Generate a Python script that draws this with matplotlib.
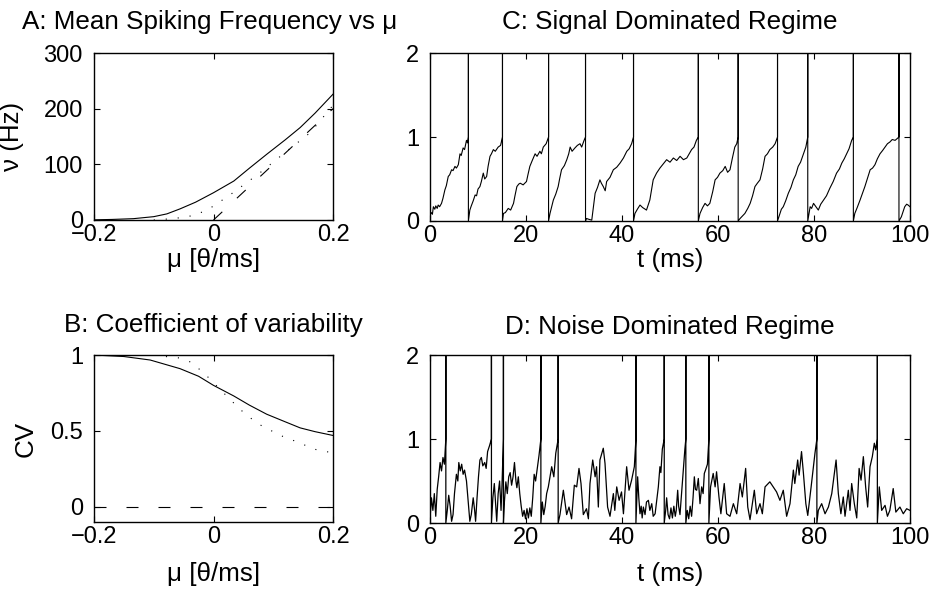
import numpy as np
import matplotlib
matplotlib.use('Agg')
import matplotlib.pyplot as plt

plt.rcParams.update({'font.size': 17, 'font.family': ['Liberation Sans', 'DejaVu Sans'],
                     'axes.titlesize': 18.7, 'axes.labelsize': 18.7})

# panel A: mean rate vs mu
mu_solid = [-0.2, -0.17, -0.134, -0.1, -0.078, -0.056, -0.03, 0.0, 0.034, 0.06, 0.089, 0.12, 0.145, 0.17, 0.2]
nu_solid = [0.3, 1.0, 2.4, 6, 11, 20, 32, 49, 70, 93, 118, 144, 166, 192, 226]
mu_dot = [-0.1, -0.08, -0.056, -0.034, -0.015, 0.0, 0.034, 0.078, 0.123, 0.162, 0.2]
nu_dot = [0.0, 1.5, 4, 8, 16, 25, 50, 85, 124, 157, 206]
mu_dash = [0.0, 0.2]
nu_dash = [0.0, 200.0]

# panel B: CV vs mu
mu_cv = [-0.2, -0.15, -0.106, -0.056, -0.025, 0.0, 0.034, 0.06, 0.089, 0.12, 0.145, 0.17, 0.2]
cv_solid = [1.0, 0.99, 0.967, 0.91, 0.86, 0.80, 0.73, 0.67, 0.61, 0.56, 0.52, 0.495, 0.47]
mu_cvdot = [-0.2, -0.1, -0.056, -0.036, -0.008, 0.017, 0.045, 0.073, 0.112, 0.145, 0.168, 0.2]
cv_dot = [1.0, 0.998, 0.98, 0.95, 0.85, 0.75, 0.64, 0.55, 0.47, 0.42, 0.38, 0.355]
mu_cvdash = [-0.2, 0.2]
cv_dash = [0.0, 0.0]

# panel C: signal dominated trace (segments between spikes)
spikes_c = [8.0, 15.1, 24.7, 32.4, 42.4, 55.9, 64.2, 72.4, 78.7, 88.2, 97.7]
segs_c = [
    [(0, 0.07), (0.3, 0.1), (0.5, 0.08), (0.7, 0.17), (1.0, 0.14), (1.2, 0.18), (1.5, 0.15), (1.7, 0.19),
     (2.0, 0.17), (2.4, 0.21), (2.7, 0.27), (3.1, 0.37), (3.4, 0.42), (3.8, 0.53), (4.1, 0.55), (4.5, 0.61),
     (4.8, 0.6), (5.2, 0.65), (5.5, 0.63), (5.9, 0.67), (6.25, 0.8), (6.5, 0.78), (6.9, 0.87), (7.2, 0.85),
     (7.6, 0.96), (7.8, 0.93), (8.0, 1.0)],
    [(8.0, 0.0), (8.3, 0.13), (8.6, 0.18), (9.0, 0.24), (9.4, 0.31), (9.7, 0.3), (10.0, 0.38), (10.4, 0.41),
     (10.7, 0.47), (11.1, 0.57), (11.4, 0.5), (11.8, 0.53), (12.1, 0.65), (12.5, 0.77), (12.8, 0.8),
     (13.2, 0.85), (13.6, 0.83), (14.2, 0.88), (14.7, 0.9), (15.1, 1.0)],
    [(15.1, 0.0), (15.3, 0.09), (15.7, 0.1), (16.3, 0.15), (16.8, 0.13), (17.4, 0.21), (17.7, 0.3),
     (18.1, 0.41), (18.5, 0.44), (18.8, 0.45), (19.4, 0.43), (20.1, 0.47), (20.4, 0.55), (20.8, 0.65),
     (21.3, 0.72), (21.9, 0.8), (22.3, 0.77), (22.9, 0.83), (23.2, 0.8), (23.6, 0.88), (24.2, 0.92),
     (24.7, 1.0)],
    [(24.7, 0.0), (25.0, 0.09), (25.3, 0.16), (25.7, 0.25), (26.2, 0.32), (26.7, 0.41), (27.0, 0.5),
     (27.4, 0.61), (28.0, 0.66), (28.5, 0.73), (28.9, 0.8), (29.2, 0.88), (29.6, 0.83), (30.2, 0.87),
     (30.7, 0.9), (31.25, 0.92), (31.6, 0.88), (32.1, 0.96), (32.4, 1.0)],
    [(32.4, 0.0), (32.6, 0.03), (33.1, 0.02), (33.7, 0.01), (34.0, 0.15), (34.4, 0.33), (34.9, 0.4),
     (35.4, 0.49), (35.7, 0.45), (36.1, 0.41), (36.5, 0.36), (36.8, 0.47), (37.5, 0.52), (38.2, 0.61),
     (38.9, 0.64), (39.6, 0.69), (40.3, 0.75), (41.0, 0.83), (41.5, 0.86), (42.0, 0.92), (42.4, 1.0)],
    [(42.4, 0.0), (42.7, 0.09), (43.2, 0.14), (43.75, 0.19), (44.3, 0.16), (45.1, 0.13), (45.8, 0.25),
     (46.5, 0.49), (47.2, 0.57), (47.9, 0.63), (48.6, 0.68), (49.3, 0.73), (50.0, 0.7), (50.7, 0.75),
     (51.4, 0.72), (52.1, 0.77), (52.8, 0.73), (53.5, 0.75), (54.0, 0.8), (54.5, 0.85), (55.0, 0.88),
     (55.5, 0.96), (55.9, 1.0)],
    [(55.9, 0.0), (56.25, 0.09), (56.8, 0.16), (57.3, 0.21), (57.8, 0.18), (58.3, 0.21), (58.9, 0.35),
     (59.4, 0.49), (59.9, 0.52), (60.4, 0.57), (61.0, 0.6), (61.5, 0.65), (62.0, 0.58), (62.5, 0.61),
     (63.0, 0.75), (63.5, 0.88), (63.9, 0.92), (64.2, 1.0)],
    [(64.2, 0.0), (64.6, 0.03), (65.1, 0.06), (65.6, 0.09), (66.2, 0.15), (66.7, 0.21), (67.2, 0.3),
     (67.7, 0.41), (68.2, 0.45), (68.75, 0.49), (69.3, 0.62), (69.8, 0.77), (70.3, 0.8), (70.8, 0.85),
     (71.4, 0.88), (71.9, 0.92), (72.4, 1.0)],
    [(72.4, 0.0), (72.9, 0.09), (73.2, 0.14), (73.6, 0.17), (74.1, 0.24), (74.65, 0.33), (75.2, 0.4),
     (75.7, 0.49), (76.2, 0.55), (76.7, 0.65), (77.2, 0.7), (77.8, 0.8), (78.3, 0.88), (78.7, 1.0)],
    [(78.7, 0.0), (79.2, 0.17), (79.5, 0.15), (79.9, 0.21), (80.4, 0.17), (80.9, 0.13), (81.4, 0.2),
     (82.0, 0.25), (82.6, 0.3), (83.3, 0.39), (84.0, 0.47), (84.7, 0.57), (85.3, 0.62), (85.8, 0.69),
     (86.3, 0.74), (86.8, 0.8), (87.3, 0.86), (87.85, 0.96), (88.2, 1.0)],
    [(88.2, 0.0), (88.5, 0.09), (89.0, 0.16), (89.6, 0.25), (90.1, 0.33), (90.6, 0.41), (91.1, 0.5),
     (91.7, 0.61), (92.2, 0.63), (92.7, 0.67), (93.2, 0.74), (93.75, 0.8), (94.3, 0.84), (94.8, 0.88),
     (95.3, 0.92), (95.8, 0.94), (96.3, 0.97), (96.9, 0.96), (97.3, 0.98), (97.7, 1.0)],
    [(97.7, 0.0), (98.2, 0.05), (98.6, 0.12), (98.9, 0.17), (99.3, 0.2), (99.6, 0.19), (100, 0.17)],
]

# panel D: noise dominated trace
spikes_d = [3.3, 12.8, 15.3, 23.1, 26.7, 42.9, 48.8, 53.3, 58.1, 80.6, 93.2]
segs_d = [
    [(0, 0.05), (0.3, 0.3), (0.6, 0.15), (0.9, 0.35), (1.2, 0.08), (1.5, 0.4), (1.8, 0.55), (2.1, 0.72),
     (2.4, 0.62), (2.7, 0.78), (3.0, 0.7), (3.3, 1.0)],
    [(3.3, 0.0), (3.6, 0.15), (3.9, 0.33), (4.2, 0.2), (4.5, 0.02), (4.8, 0.1), (5.1, 0.35), (5.5, 0.58),
     (5.8, 0.5), (6.0, 0.72), (6.3, 0.62), (6.6, 0.7), (6.9, 0.58), (7.2, 0.63), (7.6, 0.5), (7.9, 0.3),
     (8.3, 0.02), (8.6, 0.1), (9.0, 0.3), (9.3, 0.15), (9.5, 0.02), (9.8, 0.3), (10.1, 0.55), (10.4, 0.75),
     (10.7, 0.78), (11.0, 0.68), (11.4, 0.72), (11.7, 0.65), (12.0, 0.85), (12.4, 0.92), (12.8, 1.0)],
    [(12.8, 0.0), (13.1, 0.3), (13.4, 0.47), (13.7, 0.2), (13.9, 0.02), (14.2, 0.35), (14.5, 0.5),
     (14.8, 0.15), (15.0, 0.45), (15.3, 1.0)],
    [(15.3, 0.0), (15.5, 0.25), (15.8, 0.49), (16.1, 0.35), (16.4, 0.55), (16.7, 0.6), (17.0, 0.45),
     (17.3, 0.55), (17.6, 0.72), (17.9, 0.5), (18.1, 0.42), (18.4, 0.55), (18.7, 0.35), (19.0, 0.2),
     (19.3, 0.08), (19.6, 0.15), (19.9, 0.05), (20.2, 0.17), (20.5, 0.06), (20.8, 0.18), (21.1, 0.08),
     (21.4, 0.3), (21.7, 0.58), (22.0, 0.5), (22.4, 0.67), (22.7, 0.8), (23.1, 1.0)],
    [(23.1, 0.0), (23.4, 0.25), (23.7, 0.1), (24.0, 0.2), (24.3, 0.35), (24.65, 0.43), (25.0, 0.55),
     (25.35, 0.67), (25.8, 0.55), (26.2, 0.83), (26.7, 1.0)],
    [(26.7, 0.0), (27.08, 0.1), (27.78, 0.39), (28.47, 0.1), (28.96, 0.19), (29.5, 0.05), (30.07, 0.45),
     (30.56, 0.43), (31.04, 0.65), (31.46, 0.47), (31.94, 0.1), (32.6, 0.17), (33.0, 0.05), (33.33, 0.47),
     (33.9, 0.75), (34.4, 0.55), (34.7, 0.67), (35.07, 0.19), (35.4, 0.75), (36.1, 0.89), (36.46, 0.71),
     (37.0, 0.19), (37.5, 0.08), (38.2, 0.35), (38.5, 0.15), (38.9, 0.43), (39.4, 0.27), (39.9, 0.37),
     (40.3, 0.11), (40.97, 0.67), (41.46, 0.39), (42.0, 0.51), (42.57, 0.67), (42.9, 1.0)],
    [(42.9, 0.0), (43.26, 0.55), (43.5, 0.3), (43.75, 0.11), (44.0, 0.2), (44.2, 0.06), (44.45, 0.19),
     (44.8, 0.1), (45.1, 0.25), (45.5, 0.27), (45.8, 0.15), (46.2, 0.23), (46.5, 0.08), (46.9, 0.11),
     (47.2, 0.25), (47.57, 0.43), (47.9, 0.67), (48.1, 0.6), (48.4, 0.88), (48.8, 1.0)],
    [(48.8, 0.0), (49.1, 0.15), (49.3, 0.3), (49.6, 0.1), (49.9, 0.05), (50.2, 0.18), (50.5, 0.06),
     (50.8, 0.2), (51.1, 0.08), (51.3, 0.15), (51.6, 0.39), (51.8, 0.2), (52.08, 0.1), (52.4, 0.35),
     (52.78, 0.63), (53.1, 0.88), (53.3, 1.0)],
    [(53.3, 0.0), (53.6, 0.15), (53.9, 0.05), (54.2, 0.2), (54.5, 0.08), (54.8, 0.3), (55.07, 0.55),
     (55.3, 0.4), (55.56, 0.39), (55.9, 0.53), (56.25, 0.23), (56.6, 0.43), (56.9, 0.35), (57.15, 0.59),
     (57.4, 0.63), (57.8, 0.7), (58.1, 1.0)],
    [(58.1, 0.0), (58.45, 0.43), (59.0, 0.59), (59.4, 0.43), (59.7, 0.61), (60.2, 0.31), (60.6, 0.11),
     (61.3, 0.47), (61.8, 0.11), (62.5, 0.08), (63.2, 0.23), (63.9, 0.11), (64.6, 0.47), (65.07, 0.31),
     (65.76, 0.65), (66.2, 0.19), (66.67, 0.04), (67.15, 0.23), (67.57, 0.39), (68.06, 0.11), (68.75, 0.23),
     (69.24, 0.11), (69.8, 0.43), (70.8, 0.49), (71.5, 0.43), (72.2, 0.37), (72.9, 0.27), (73.6, 0.39),
     (74.3, 0.08), (75.0, 0.23), (75.7, 0.63), (76.0, 0.47), (76.6, 0.75), (76.9, 0.57), (77.4, 0.85),
     (77.8, 0.59), (78.3, 0.23), (78.7, 0.09), (79.4, 0.43), (80.2, 0.83), (80.6, 1.0)],
    [(80.6, 0.0), (80.9, 0.15), (81.6, 0.23), (82.3, 0.11), (83.0, 0.19), (83.7, 0.35), (84.6, 0.75),
     (85.07, 0.35), (85.6, 0.11), (86.1, 0.31), (86.46, 0.08), (87.15, 0.39), (87.5, 0.15), (87.85, 0.47),
     (88.4, 0.23), (88.9, 0.06), (89.4, 0.65), (89.8, 0.51), (90.28, 0.79), (90.76, 0.43), (91.18, 0.19),
     (91.67, 0.67), (92.15, 0.79), (92.57, 0.95), (92.85, 0.87), (93.2, 1.0)],
    [(93.2, 0.0), (93.6, 0.43), (94.1, 0.15), (94.8, 0.21), (95.3, 0.08), (95.8, 0.15), (96.5, 0.41),
     (97.05, 0.13), (97.9, 0.19), (98.6, 0.11), (99.3, 0.17), (100, 0.15)],
]


def build_trace(segs):
    t, v = [], []
    for k, seg in enumerate(segs):
        for a, b in seg:
            t.append(a)
            v.append(b)
        if k < len(segs) - 1:
            # spike drawn up to 2
            t.append(seg[-1][0])
            v.append(2.0)
    return np.array(t), np.array(v)


def style(ax):
    ax.tick_params(direction='in', top=True, right=True, length=4, width=0.8)
    ax.tick_params(axis='x', pad=3)
    ax.tick_params(axis='y', pad=8)
    for s in ax.spines.values():
        s.set_linewidth(1.0)


fig = plt.figure(figsize=(9.35, 5.92), dpi=100)
W, H = 935.0, 592.0
axA = fig.add_axes([94 / W, 1 - 220 / H, 239 / W, 167 / H])
axC = fig.add_axes([430 / W, 1 - 221 / H, 480 / W, 168 / H])
axB = fig.add_axes([94 / W, 1 - 522 / H, 239 / W, 167 / H])
axD = fig.add_axes([430 / W, 1 - 523 / H, 480 / W, 168 / H])

lw = 0.8
dash = (0, (10.8, 18))
dots = (0, (1, 9.8))

axA.plot(mu_solid, nu_solid, color='black', lw=lw)
axA.plot(mu_dot, nu_dot, color='black', lw=lw, linestyle=dots)
axA.plot(mu_dash, nu_dash, color='black', lw=lw, linestyle=dash)
axA.set_xlim(-0.2, 0.2)
axA.set_ylim(0, 300)
axA.set_xticks([-0.2, 0, 0.2])
axA.set_xticklabels(['\u22120.2', '0', '0.2'])
axA.set_yticks([0, 100, 200, 300])
axA.set_xlabel('\u03bc [\u03b8/ms]')
axA.xaxis.set_label_coords(0.5, (220 - 248) / 167)
axA.set_ylabel('\u03bd (Hz)')
axA.yaxis.set_label_coords((24 - 94) / 239, 0.5)
axA.set_title('A: Mean Spiking Frequency vs \u03bc', x=(210 - 94) / 239, pad=17)
style(axA)

axB.plot(mu_cv, cv_solid, color='black', lw=lw)
axB.plot(mu_cvdot, cv_dot, color='black', lw=lw, linestyle=dots)
axB.plot(mu_cvdash, cv_dash, color='black', lw=lw, linestyle=dash)
axB.set_xlim(-0.2, 0.2)
axB.set_ylim(-0.1, 1)
axB.set_xticks([-0.2, 0, 0.2])
axB.set_xticklabels(['\u22120.2', '0', '0.2'])
axB.set_yticks([0, 0.5, 1])
axB.set_yticklabels(['0', '0.5', '1'])
axB.set_xlabel('\u03bc [\u03b8/ms]')
axB.xaxis.set_label_coords(0.5, (522 - 562) / 167)
axB.set_ylabel('CV')
axB.yaxis.set_label_coords((38 - 94) / 239, 0.5)
axB.set_title('B: Coefficient of variability', pad=16.5)
style(axB)

tc, vc = build_trace(segs_c)
axC.plot(tc, vc, color='black', lw=0.8)
axC.set_xlim(0, 100)
axC.set_ylim(0, 2)
axC.set_xticks([0, 20, 40, 60, 80, 100])
axC.set_yticks([0, 1, 2])
axC.set_xlabel('t (ms)')
axC.xaxis.set_label_coords(0.5, (221 - 248) / 168)
axC.set_title('C: Signal Dominated Regime', pad=17)
style(axC)

td, vd = build_trace(segs_d)
axD.plot(td, vd, color='black', lw=0.9)
axD.set_xlim(0, 100)
axD.set_ylim(0, 2)
axD.set_xticks([0, 20, 40, 60, 80, 100])
axD.set_yticks([0, 1, 2])
axD.set_xlabel('t (ms)')
axD.xaxis.set_label_coords(0.5, (523 - 562) / 168)
axD.set_title('D: Noise Dominated Regime', pad=15)
style(axD)

fig.savefig('out.png', dpi=100)
